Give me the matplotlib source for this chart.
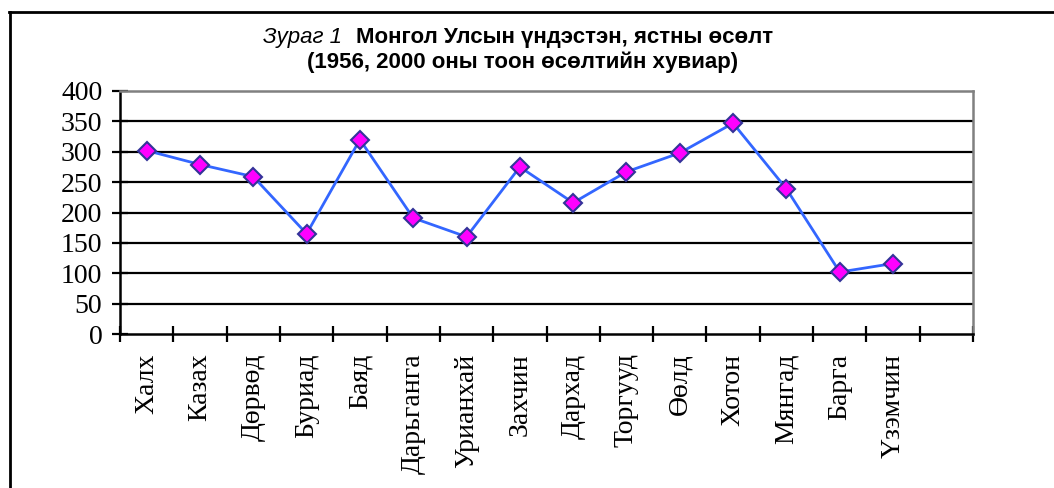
import matplotlib
matplotlib.use('Agg')
import matplotlib.pyplot as plt
import numpy as np
from matplotlib.lines import Line2D

groups = ['Халх', 'Казах', 'Дөрвөд', 'Буриад', 'Баяд', 'Дарьганга', 'Урианхай',
          'Захчин', 'Дархад', 'Торгууд', 'Өөлд', 'Хотон', 'Мянгад', 'Барга', 'Үзэмчин']
growth = [302, 279, 259, 165, 320, 191, 160, 275, 216, 267, 298, 347, 239, 102, 116]
yticks = [0, 50, 100, 150, 200, 250, 300, 350, 400]
n_slots = 16  # one empty category slot at the end

fig = plt.figure(figsize=(10.54, 4.88), dpi=100)
ax = fig.add_axes([120/1054, 1 - 334/488, 853/1054, 243/488])

x = np.arange(len(groups)) + 0.5
ax.plot(x, growth, color='#3366ff', lw=2, zorder=3)
ax.plot(x, growth, ls='none', marker='D', ms=9, mfc='#ff00ff',
        mec='#333399', mew=1.5, zorder=4)

ax.set_xlim(0, n_slots)
ax.set_ylim(0, 400)
for v in yticks[1:-1]:
    ax.axhline(v, color='black', lw=1.6, zorder=1)

ax.set_yticks(yticks)
ax.set_xticks(np.arange(n_slots + 1))
ax.set_xticklabels([])
ax.set_xticks(x, minor=True)
ax.set_xticklabels(groups, minor=True, rotation=90, va='top', ha='center',
                   family='Liberation Serif', fontsize=20)
ax.tick_params(axis='x', which='minor', length=0, pad=14)
ax.tick_params(axis='both', which='major', direction='inout', length=11.5,
               width=1.6, color='black')
ax.tick_params(axis='y', pad=7, labelsize=20)
for lab in ax.get_yticklabels():
    lab.set_family('Liberation Serif')

for s in ['left', 'bottom']:
    ax.spines[s].set_color('black')
    ax.spines[s].set_linewidth(1.8)
for s in ['top', 'right']:
    ax.spines[s].set_color('#808080')
    ax.spines[s].set_linewidth(1.8)

# title
fig.text(342/1054, 1 - 37/488, 'Зураг 1', ha='right', va='center',
         style='italic', family='Liberation Sans', fontsize=16)
fig.text(356/1054, 1 - 37/488, 'Монгол Улсын үндэстэн, ястны өсөлт',
         ha='left', va='center', weight='bold', family='Liberation Sans', fontsize=16)
fig.text(523/1054, 1 - 62/488, '(1956, 2000 оны тоон өсөлтийн хувиар)',
         ha='center', va='center', weight='bold', family='Liberation Sans', fontsize=16)

# outer frame (top and left edges only visible)
fig.add_artist(Line2D([9/1054, 1.0], [1 - 12/488, 1 - 12/488], color='black', lw=2,
                      transform=fig.transFigure))
fig.add_artist(Line2D([10/1054, 10/1054], [0, 1 - 12/488], color='black', lw=2,
                      transform=fig.transFigure))

fig.savefig('out.png', dpi=100)
